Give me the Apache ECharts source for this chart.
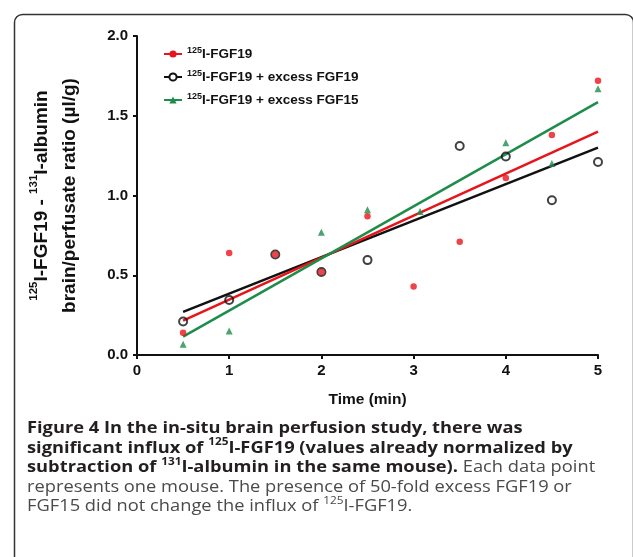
<!DOCTYPE html>
<html>
<head>
<meta charset="utf-8">
<script src="https://cdn.jsdelivr.net/npm/echarts@6/dist/echarts.min.js"></script>
<style>html,body{margin:0;padding:0;background:#fff}#c{width:633px;height:557px}</style>
</head>
<body>
<div id="c"></div>
<script>
var timeX = [0.5, 1, 1.5, 2, 2.5, 3, 3.5, 4, 4.5, 5];
var fgf19 = [0.14, 0.64, 0.63, 0.52, 0.87, 0.43, 0.71, 1.11, 1.38, 1.72];
var excessFGF19X = [0.5, 1, 1.5, 2, 2.5, 3.5, 4, 4.5, 5];
var excessFGF19 = [0.21, 0.345, 0.63, 0.52, 0.595, 1.31, 1.245, 0.97, 1.21];
var excessFGF15X = [0.5, 1, 2, 2.5, 3.07, 4, 4.5, 5];
var excessFGF15 = [0.067, 0.15, 0.77, 0.91, 0.90, 1.33, 1.20, 1.67];
var fitX = [0.5, 5];
var fitFGF19 = [0.215, 1.40];
var fitExcessFGF19 = [0.27, 1.30];
var fitExcessFGF15 = [0.115, 1.585];
var yTicks = ['0.0', '0.5', '1.0', '1.5', '2.0'];
var xTicks = ['0', '1', '2', '3', '4', '5'];

function pairs(xs, ys) { return xs.map(function (x, i) { return [x, ys[i]]; }); }

var legendNames = {
  'FGF19': '{s|125}{t|I-FGF19}',
  'FGF19ex19': '{s|125}{t|I-FGF19 + excess FGF19}',
  'FGF19ex15': '{s|125}{t|I-FGF19 + excess FGF15}'
};
var RED = '#e8141b', BLACK = '#111111', GREEN = '#1e8c4a';
var axisFont = 'Liberation Sans, Arial, sans-serif';

var chart = echarts.init(document.getElementById('c'));
chart.setOption({
  animation: false,
  backgroundColor: '#fff',
  grid: { left: 137, top: 36, right: 35, bottom: 202, containLabel: false },
  legend: {
    orient: 'vertical', left: 158, top: 41, itemGap: 8, itemWidth: 18, itemHeight: 9,
    data: ['FGF19', 'FGF19ex19', 'FGF19ex15'],
    formatter: function (n) { return legendNames[n]; },
    textStyle: {
      rich: {
        s: { fontSize: 9, fontWeight: 'bold', fontFamily: axisFont, color: '#111', verticalAlign: 'top', lineHeight: 10 },
        t: { fontSize: 13.5, fontWeight: 'bold', fontFamily: axisFont, color: '#111', lineHeight: 16 }
      }
    }
  },
  xAxis: {
    type: 'value', min: 0, max: 5, interval: 1,
    name: 'Time (min)', nameLocation: 'middle', nameGap: 37,
    nameTextStyle: { fontSize: 15.5, fontWeight: 'bold', fontFamily: axisFont, color: '#111' },
    axisLine: { lineStyle: { color: '#111', width: 2 } },
    axisTick: { show: true, length: 4, lineStyle: { color: '#111', width: 2 } },
    axisLabel: { fontSize: 15, fontWeight: 'bold', fontFamily: axisFont, color: '#111', margin: 8,
      formatter: function (v) { return xTicks[Math.round(v)]; } },
    splitLine: { show: false }
  },
  yAxis: {
    type: 'value', min: 0, max: 2, interval: 0.5,
    name: '{s|125}{t|I-FGF19 - }{s|131}{t|I-albumin}\n{t|brain/perfusate ratio (µl/g)}',
    nameLocation: 'middle', nameGap: 53, nameRotate: 90,
    nameTextStyle: {
      rich: {
        s: { fontSize: 11.5, fontWeight: 'bold', fontFamily: axisFont, color: '#111', verticalAlign: 'top', lineHeight: 12 },
        t: { fontSize: 19, fontWeight: 'bold', fontFamily: axisFont, color: '#111', lineHeight: 28 }
      }
    },
    axisLine: { show: true, lineStyle: { color: '#111', width: 2 } },
    axisTick: { show: true, length: 4, lineStyle: { color: '#111', width: 2 } },
    axisLabel: { fontSize: 15, fontWeight: 'bold', fontFamily: axisFont, color: '#111', margin: 9,
      formatter: function (v) { return yTicks[Math.round(v * 2)]; } },
    splitLine: { show: false }
  },
  series: [
    { name: 'FGF19', type: 'line', data: pairs(fitX, fitFGF19), showSymbol: false, symbol: 'circle', symbolSize: 6,
      itemStyle: { color: RED }, lineStyle: { color: RED, width: 2.5 }, z: 3 },
    { name: 'FGF19ex19', type: 'line', data: pairs(fitX, fitExcessFGF19), showSymbol: false, symbol: 'emptyCircle', symbolSize: 6,
      itemStyle: { color: BLACK, borderColor: BLACK, borderWidth: 2 }, lineStyle: { color: BLACK, width: 2.5 }, z: 2 },
    { name: 'FGF19ex15', type: 'line', data: pairs(fitX, fitExcessFGF15), showSymbol: false, symbol: 'triangle', symbolSize: 6,
      itemStyle: { color: GREEN }, lineStyle: { color: GREEN, width: 2.5 }, z: 4 },
    { name: 'pts15', type: 'scatter', data: pairs(excessFGF15X, excessFGF15), symbol: 'triangle', symbolSize: 7,
      itemStyle: { color: GREEN }, z: 5 },
    { name: 'pts19', type: 'scatter', data: pairs(excessFGF19X, excessFGF19), symbol: 'circle', symbolSize: 8,
      itemStyle: { color: 'rgba(0,0,0,0)', borderColor: BLACK, borderWidth: 2 }, z: 5 },
    { name: 'ptsA', type: 'scatter', data: pairs(timeX, fgf19), symbol: 'circle', symbolSize: 6.5,
      itemStyle: { color: RED }, z: 6 }
  ],
  graphic: [
    { type: 'rect', left: 12, top: 12, shape: { width: 619, height: 560, r: 8 },
      style: { fill: 'none', stroke: '#333', lineWidth: 1.5 }, silent: true, z: -1 },
    { type: 'group', x: 27, y: 418, children: [
      { type: 'text', x: 0, y: 0, scaleX: 1.18, style: { text: '{b|Figure 4 In the in-situ brain perfusion study, there was}', rich: capRich() } },
      { type: 'text', x: 0, y: 19.5, scaleX: 1.18, style: { text: '{b|significant influx of }{sb|125}{b|I-FGF19 (values already normalized by}', rich: capRich() } },
      { type: 'text', x: 0, y: 39, scaleX: 1.18, style: { text: '{b|subtraction of }{sb|131}{b|I-albumin in the same mouse).}{n| Each data point}', rich: capRich() } },
      { type: 'text', x: 0, y: 58.5, scaleX: 1.18, style: { text: '{n|represents one mouse. The presence of 50-fold excess FGF19 or}', rich: capRich() } },
      { type: 'text', x: 0, y: 78, scaleX: 1.18, style: { text: '{n|FGF15 did not change the influx of }{sn|125}{n|I-FGF19.}', rich: capRich() } }
    ] }
  ]
});
function capRich() {
  var f = 'Open Sans, Noto Sans, sans-serif';
  return {
    b: { fontSize: 15.5, fontWeight: 'bold', fontFamily: f, fill: '#231f20', lineHeight: 22 },
    n: { fontSize: 15.5, fontWeight: 'normal', fontFamily: f, fill: '#4a4a4a', lineHeight: 22 },
    sb: { fontSize: 10, fontWeight: 'bold', fontFamily: f, fill: '#231f20', verticalAlign: 'top', lineHeight: 12 },
    sn: { fontSize: 10, fontWeight: 'normal', fontFamily: f, fill: '#4a4a4a', verticalAlign: 'top', lineHeight: 12 }
  };
}
</script>
</body>
</html>
